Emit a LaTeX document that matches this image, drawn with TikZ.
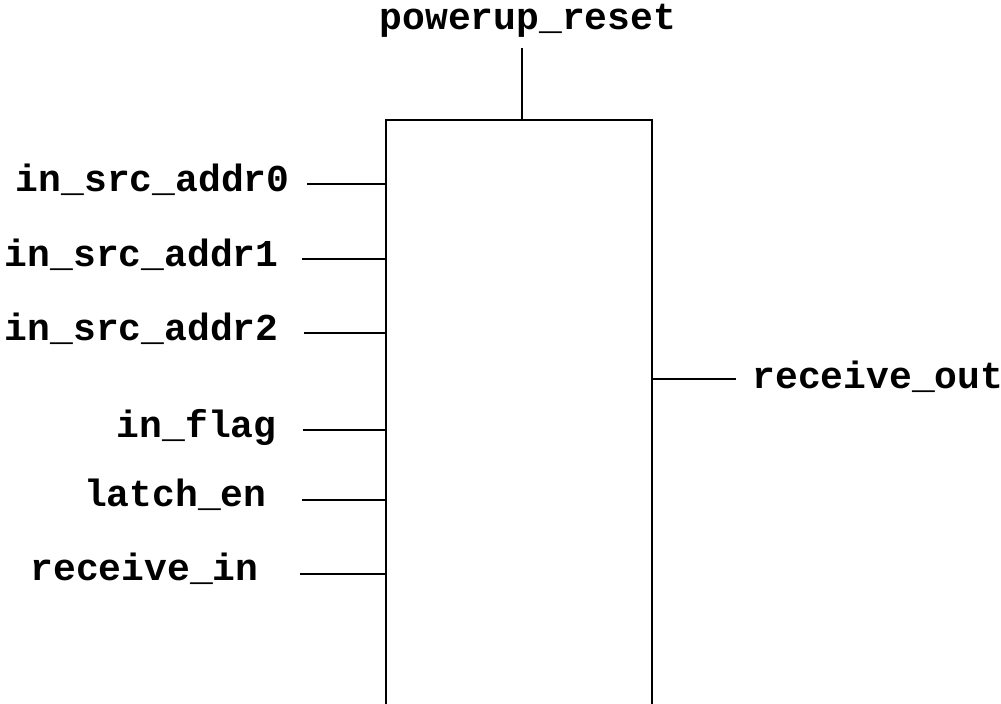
\documentclass[tikz,border=0pt]{standalone}
\usepackage{fontspec}
\newfontfamily\pinfont{Liberation Mono}
\begin{document}
\begin{tikzpicture}[x=0.5pt,y=-0.5pt,
  pin/.style={font=\pinfont\bfseries\fontsize{19pt}{21pt}\selectfont,inner sep=0pt},
  wire/.style={line width=1.35pt}]
\useasboundingbox (0,0) rectangle (1001,704);
% box (open at the bottom)
\coordinate (bl) at (386,704);
\coordinate (tl) at (386,120);
\coordinate (tr) at (652,120);
\coordinate (br) at (652,704);
\draw[wire] (bl) -- (tl) -- (tr) -- (br);
% top pin
\node[pin,anchor=base] (pr) at (528,30) {powerup\_reset};
\coordinate (prt) at (522,48);
\coordinate (prb) at (522,120);
\draw[wire] (prt) -- (prb);
% left pins
\node[pin,anchor=base east] (a0) at (290,192) {in\_src\_addr0};
\coordinate (a0s) at (307,184); \coordinate (a0e) at (386,184);
\draw[wire] (a0s) -- (a0e);
\node[pin,anchor=base east] (a1) at (279,267) {in\_src\_addr1};
\coordinate (a1s) at (302,259); \coordinate (a1e) at (386,259);
\draw[wire] (a1s) -- (a1e);
\node[pin,anchor=base east] (a2) at (279,341) {in\_src\_addr2};
\coordinate (a2s) at (304,333); \coordinate (a2e) at (386,333);
\draw[wire] (a2s) -- (a2e);
\node[pin,anchor=base east] (fl) at (277,438) {in\_flag};
\coordinate (fls) at (303,430); \coordinate (fle) at (386,430);
\draw[wire] (fls) -- (fle);
\node[pin,anchor=base east] (le) at (267,507) {latch\_en};
\coordinate (les) at (302,500); \coordinate (lee) at (386,500);
\draw[wire] (les) -- (lee);
\node[pin,anchor=base east] (ri) at (259,581) {receive\_in};
\coordinate (ris) at (300,574); \coordinate (rie) at (386,574);
\draw[wire] (ris) -- (rie);
% right pin
\node[pin,anchor=base west] (ro) at (752,389) {receive\_out};
\coordinate (ros) at (652,379); \coordinate (roe) at (736,379);
\draw[wire] (ros) -- (roe);
\end{tikzpicture}
\end{document}
